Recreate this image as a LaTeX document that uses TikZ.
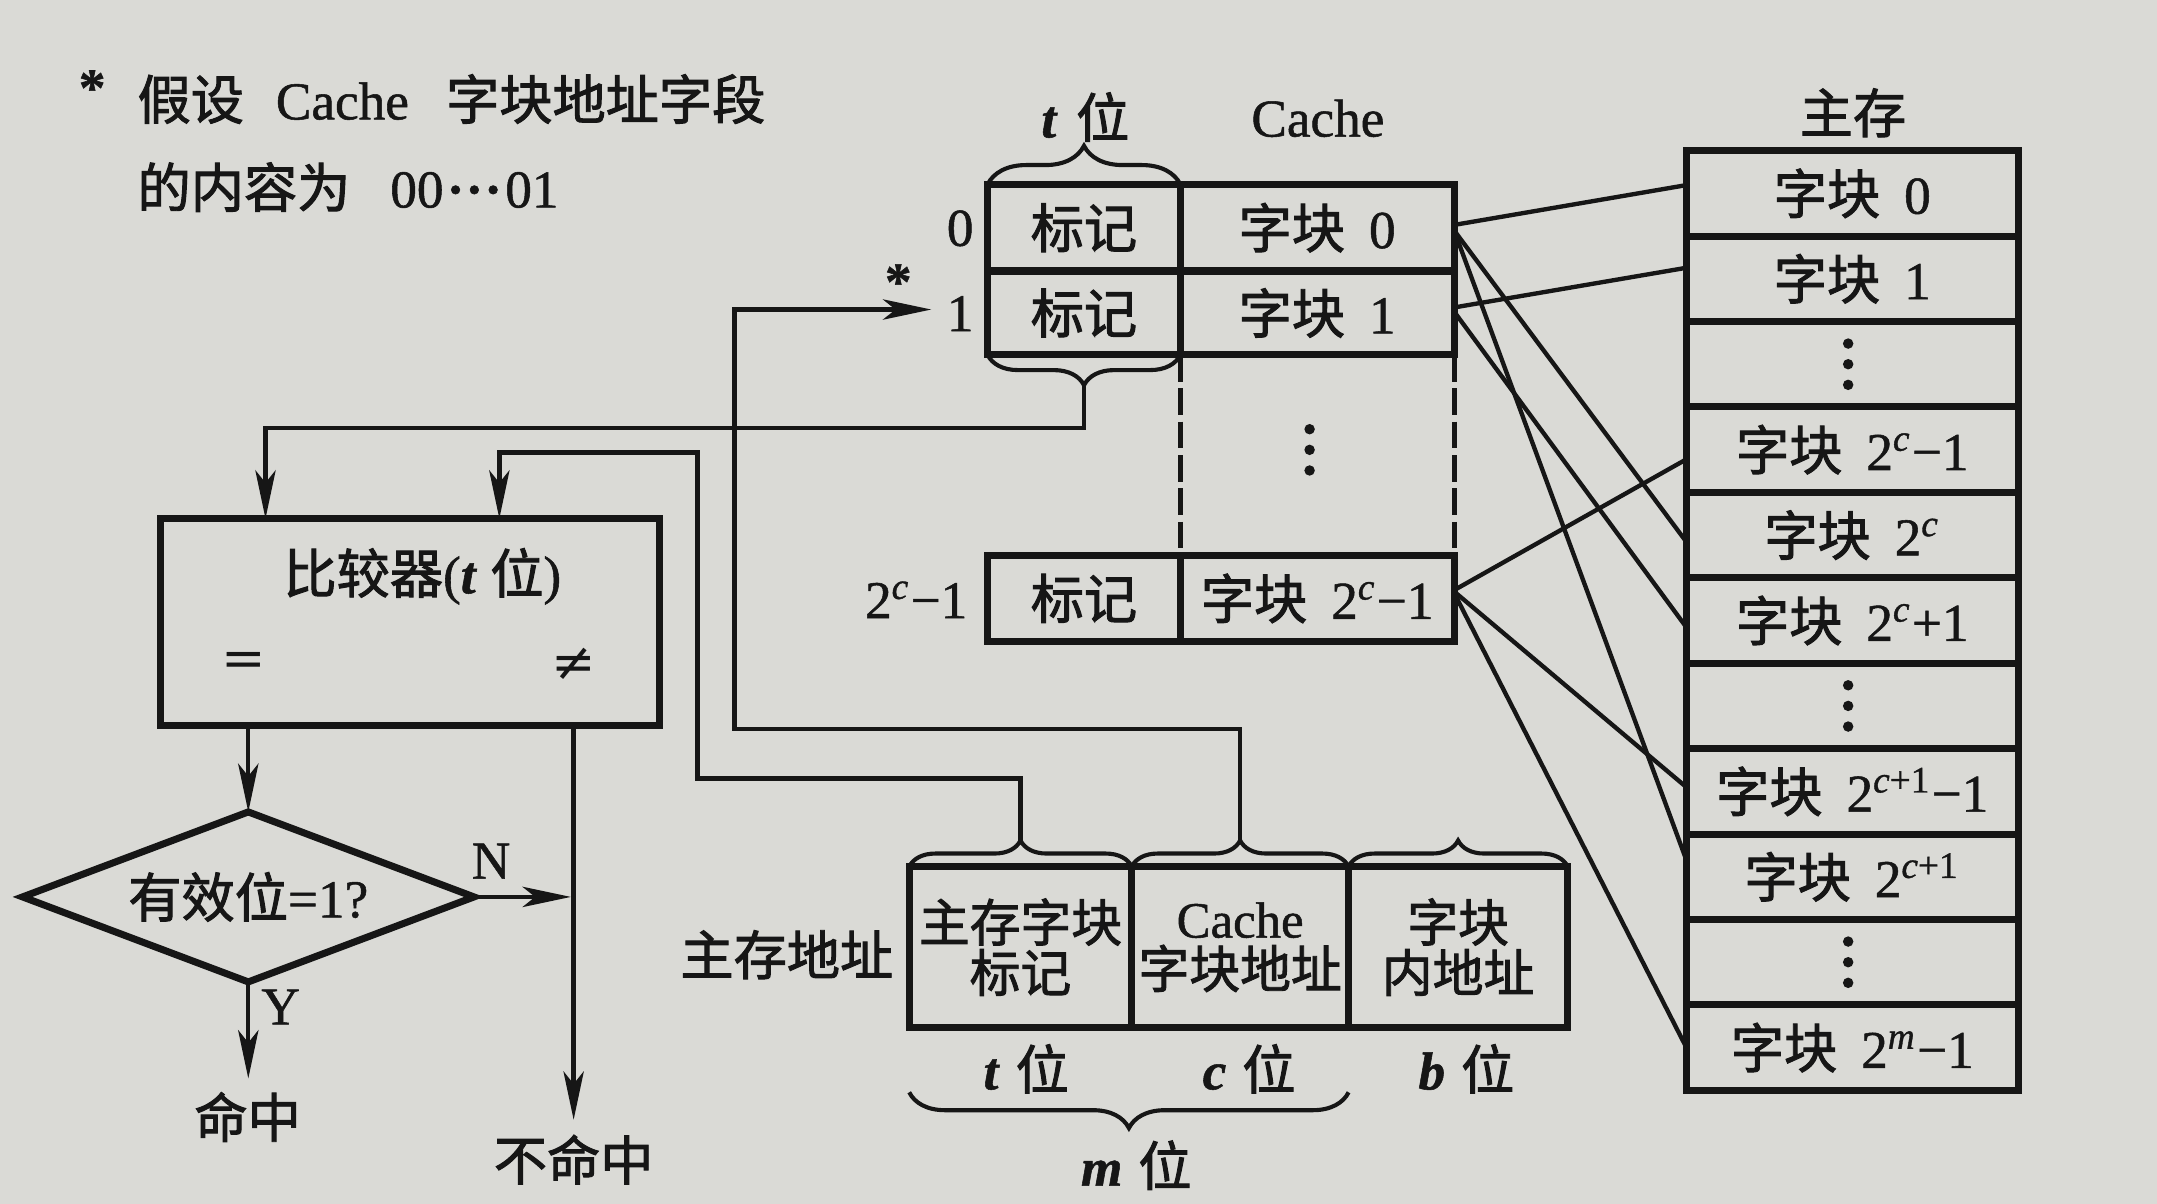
\documentclass[tikz,border=0pt]{standalone}
\usepackage{fontspec}
\setmainfont{Liberation Serif}[FakeBold=1.0]
\newfontfamily\cjk{Noto Sans CJK SC}[FakeBold=1.8]
\newfontfamily\symf{DejaVu Serif}
\usetikzlibrary{arrows.meta,decorations.pathreplacing,shapes.geometric,calc}
\definecolor{paper}{RGB}{218,218,214}
\definecolor{ink}{RGB}{22,22,22}
\newcommand{\zh}[1]{{\cjk #1}}
\newcommand{\bi}[1]{\textbf{\textit{#1}}}
\newcommand{\sx}[1]{\textsuperscript{#1}}
\newcommand{\mfont}{\fontsize{11pt}{13pt}\selectfont}
\newcommand{\ffont}{\fontsize{10.5pt}{12.5pt}\selectfont}
\begin{document}
\begin{tikzpicture}[x=0.01cm,y=-0.01cm,
  every node/.style={font=\mfont,text=ink,inner sep=0pt,outer sep=0pt},
  box/.style={draw=ink,line width=1.45pt},
  conn/.style={draw=ink,line width=0.9pt},
  arr/.style={conn,-{Stealth[length=10pt,width=4.2pt,inset=2.6pt]}},
  bracedeco/.style={draw=ink,line width=0.85pt,decorate,decoration={brace,amplitude=#1}},
  dashline/.style={draw=ink,line width=1pt,dash pattern=on 5.5pt off 1.4pt},
  tagcell/.style={box,minimum width=1.40cm,minimum height=#1},
  blkcell/.style={box,minimum width=1.99cm,minimum height=#1},
  mmcell/.style={box,minimum width=2.41cm,minimum height=0.621cm},
  fieldcell/.style={box,minimum width=#1,minimum height=1.17cm,align=center,font=\ffont}
]
\fill[paper] (0,0) rectangle (1568,875);
\useasboundingbox (0,0) rectangle (1568,875);

% note
\node (star0) at (67,64) {\textbf{*}};
\node[anchor=west] (note1) at (100,72) {\zh{假设}\hspace{0.6em}Cache\hspace{0.7em}\zh{字块地址字段}};
\node[anchor=west] (note2) at (100,136) {\zh{的内容为}\hspace{0.75em}00\kern0.06em\textbf{·}\kern0.02em\textbf{·}\kern0.02em\textbf{·}\kern0.06em01};

% cache
\node (tlab) at (789,85) {\bi{t}\hspace{0.35em}\zh{位}};
\node (clab) at (958,86) {Cache};
\node[tagcell=0.63cm] (tag0) at (788,165.5) {\zh{标记}};
\node[blkcell=0.63cm] (blk0) at (957.5,165.5) {\zh{字块}\hspace{0.45em}0};
\node[tagcell=0.61cm] (tag1) at (788,227.5) {\zh{标记}};
\node[blkcell=0.61cm] (blk1) at (957.5,227.5) {\zh{字块}\hspace{0.45em}1};
\node[tagcell=0.62cm] (tagN) at (788,435) {\zh{标记}};
\node[blkcell=0.62cm] (blkN) at (957.5,435) {\zh{字块}\hspace{0.45em}2\sx{\textit{c}}−1};
\node (r0) at (698,166) {0};
\node (r1) at (698,228) {1};
\node (rN) at (666,436) {2\sx{\textit{c}}−1};
\node (star1) at (653,205) {\textbf{*}};
\draw[dashline] (blk1.south west) -- (blkN.north west);
\draw[dashline] (blk1.south east) -- (blkN.north east);
\foreach \d in {312,327,342} \fill[ink] (952,\d) circle[radius=0.038cm];
\draw[bracedeco=0.28cm] (tag0.north west) -- (tag0.north east);
\draw[bracedeco=0.22cm] (tag1.south east) -- (tag1.south west);
\coordinate (tagtip) at ($(tag1.south)+(0,22)$);
\coordinate (r1in) at (677,225);

% main memory
\node (mmlab) at (1347,82) {\zh{主存}};
\node[mmcell] (m0) at (1346.5,140.55) {\zh{字块}\hspace{0.45em}0};
\node[mmcell] (m1) at (1346.5,202.65) {\zh{字块}\hspace{0.45em}1};
\node[mmcell] (m2) at (1346.5,264.75) {};
\node[mmcell] (m3) at (1346.5,326.85) {\zh{字块}\hspace{0.45em}2\sx{\textit{c}}−1};
\node[mmcell] (m4) at (1346.5,388.95) {\zh{字块}\hspace{0.45em}2\sx{\textit{c}}};
\node[mmcell] (m5) at (1346.5,451.05) {\zh{字块}\hspace{0.45em}2\sx{\textit{c}}+1};
\node[mmcell] (m6) at (1346.5,513.15) {};
\node[mmcell] (m7) at (1346.5,575.25) {\zh{字块}\hspace{0.45em}2\sx{\textit{c}+1}−1};
\node[mmcell] (m8) at (1346.5,637.35) {\zh{字块}\hspace{0.45em}2\sx{\textit{c}+1}};
\node[mmcell] (m9) at (1346.5,699.45) {};
\node[mmcell] (m10) at (1346.5,761.55) {\zh{字块}\hspace{0.45em}2\sx{\textit{m}}−1};
\foreach \i in {2,6,9} \foreach \d in {-15,0,15} \fill[ink] ($(m\i)+(-3,\d)$) circle[radius=0.038cm];

% mapping lines
\draw[conn] ($(blk0.east)+(0,-2)$) -- ($(m0.west)+(0,-6)$);
\draw[conn] ($(blk0.east)+(0,2)$) -- ($(m4.west)+(0,5)$);
\draw[conn] ($(blk0.east)+(0,2)$) -- ($(m8.west)+(0,-12)$);
\draw[conn] ($(blk1.east)+(0,-4)$) -- ($(m1.west)+(0,-8)$);
\draw[conn] ($(blk1.east)+(0,-1)$) -- ($(m5.west)+(0,5)$);
\draw[conn] ($(blkN.east)+(0,-6)$) -- ($(m3.west)+(0,7)$);
\draw[conn] ($(blkN.east)+(0,-5)$) -- ($(m7.west)+(0,-3)$);
\draw[conn] ($(blkN.east)+(0,-4)$) -- (m10.west);

% main memory address
\node (addrlab) at (572,694) {\zh{主存地址}};
\node[fieldcell=1.617cm] (fa) at (741.85,688.5) {\zh{主存字块}\\[-2.1pt]\zh{标记}};
\node[fieldcell=1.576cm] (fc) at (901.5,688.5) {Cache\\[-2.1pt]\zh{字块地址}};
\node[fieldcell=1.593cm] (fb) at (1059.95,688.5) {\zh{字块}\\[-2.1pt]\zh{内地址}};
\draw[bracedeco=0.19cm] (fa.north west) -- (fa.north east);
\draw[bracedeco=0.19cm] (fc.north west) -- (fc.north east);
\draw[bracedeco=0.19cm] (fb.north west) -- (fb.north east);
\coordinate (atip) at ($(fa.north)+(0,-19)$);
\coordinate (ctip) at ($(fc.north)+(0,-19)$);
\node (tbits) at (746,777) {\bi{t}\hspace{0.3em}\zh{位}};
\node (cbits) at (908,777) {\bi{c}\hspace{0.3em}\zh{位}};
\node (bbits) at (1066,777) {\bi{b}\hspace{0.3em}\zh{位}};
\draw[bracedeco=0.26cm] ($(fc.south east)+(0,47)$) -- ($(fa.south west)+(0,47)$);
\node (mbits) at (826,847) {\bi{m}\hspace{0.3em}\zh{位}};

% comparator and decision
\node[box,minimum width=3.62cm,minimum height=1.50cm] (cmp) at (298,452) {};
\node (cmptitle) at (307,419) {\zh{比较器}(\bi{t}\hspace{0.25em}\zh{位})};
\node (eq) at (177,483) {{\symf =}};
\node (neq) at (417,483) {{\symf ≠}};
\coordinate (inA) at (193,377);
\coordinate (inB) at (363,377);
\coordinate (cmpL) at (180.5,527);
\coordinate (cmpR) at (417,527);
\node[box,diamond,aspect=2.67,minimum width=3.28cm,minimum height=1.235cm] (dia) at (180.5,652) {\zh{有效位}=1?};
\coordinate (hitend) at (180.5,784);
\coordinate (join) at (415,652);
\coordinate (missend) at (417,814);
\node (nlab) at (357,626) {N};
\node (ylab) at (204,732) {Y};
\node (hit) at (180,812) {\zh{命中}};
\node (miss) at (417,843) {\zh{不命中}};

% connectors
\draw[arr] (tagtip) -- ++(0,31) -| (inA);
\draw[arr] (atip) -- ++(0,-45) -| (507,329) -| (inB);
\draw[arr] (ctip) -- ++(0,-81) -| (534,225) -- (r1in);
\draw[arr] (cmpL) -- (dia.north);
\draw[arr] (dia.south) -- (hitend);
\draw[arr] (dia.east) -- (join);
\draw[arr] (cmpR) -- (missend);
\end{tikzpicture}
\end{document}
